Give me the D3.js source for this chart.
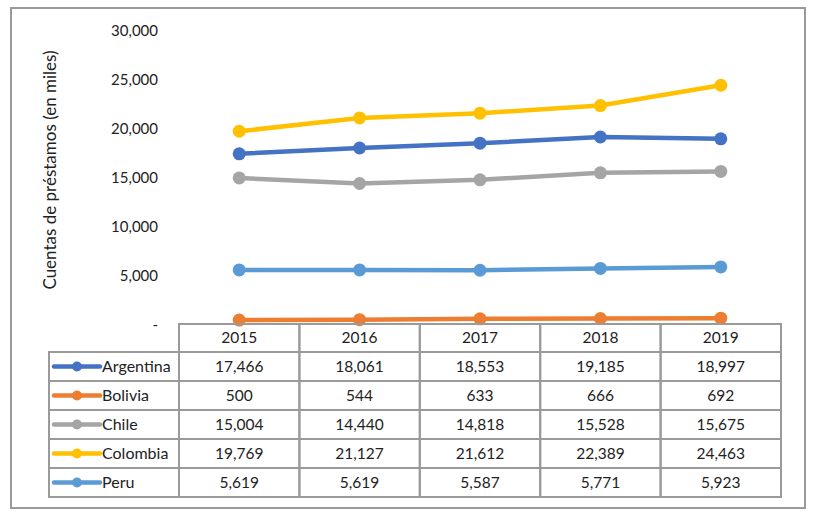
<!DOCTYPE html>
<html lang="es">
<head>
<meta charset="utf-8">
<title>Cuentas de préstamos</title>
<script src="https://cdn.jsdelivr.net/npm/d3@7"></script>
<style>
  body { margin: 0; background: #fff; }
  text { font-family: Lato, "Open Sans", sans-serif; fill: #222; }
  .tick text { font-size: 15px; }
  .tbl text { font-size: 15.5px; }
  .tbl text.leg { font-size: 16px; }
</style>
</head>
<body>
<script>
var years = ["2015", "2016", "2017", "2018", "2019"];
var countries = ["Argentina", "Bolivia", "Chile", "Colombia", "Peru"];
var argentina = [17466, 18061, 18553, 19185, 18997];
var bolivia = [500, 544, 633, 666, 692];
var chile = [15004, 14440, 14818, 15528, 15675];
var colombia = [19769, 21127, 21612, 22389, 24463];
var peru = [5619, 5619, 5587, 5771, 5923];
var yTicks = [0, 5000, 10000, 15000, 20000, 25000, 30000];
var colors = ["#4472C4", "#ED7D31", "#A5A5A5", "#FFC000", "#5B9BD5"];
var series = [argentina, bolivia, chile, colombia, peru];

var w = 814, h = 517;
var svg = d3.select("body").append("svg").attr("width", w).attr("height", h);

// outer frame
svg.append("rect").attr("x", 11).attr("y", 8).attr("width", 794).attr("height", 500)
   .attr("fill", "none").attr("stroke", "#9a9a9a").attr("stroke-width", 2);

var tableLeft = 179, tableRight = 781, tableTop = 324;
var xScale = d3.scaleBand().domain(years).range([tableLeft, tableRight]);
var yScale = d3.scaleLinear().domain([0, 30000]).range([325, 31]);

// y axis
var fmt = d3.format(",");
var yAxis = d3.axisLeft(yScale).tickValues(yTicks)
  .tickFormat(function(d) { return d === 0 ? "-" : fmt(d); })
  .tickSize(0).tickPadding(0);
var yg = svg.append("g").attr("transform", "translate(158,0)").call(yAxis);
yg.select(".domain").remove();
yg.selectAll("text").attr("fill", "#222").style("font-family", "Lato, sans-serif");

svg.append("text")
   .attr("transform", "translate(56,170) rotate(-90)")
   .attr("text-anchor", "middle").attr("font-size", 17)
   .text("Cuentas de préstamos (en miles)");

// lines
var line = d3.line()
  .x(function(d, i) { return xScale(years[i]) + xScale.bandwidth() / 2; })
  .y(function(d) { return yScale(d); });

series.forEach(function(s, k) {
  var g = svg.append("g");
  g.append("path").datum(s).attr("d", line)
   .attr("fill", "none").attr("stroke", colors[k]).attr("stroke-width", 4.5)
   .attr("stroke-linejoin", "round");
  g.selectAll("circle").data(s).enter().append("circle")
   .attr("cx", function(d, i) { return xScale(years[i]) + xScale.bandwidth() / 2; })
   .attr("cy", function(d) { return yScale(d); })
   .attr("r", 6.5).attr("fill", colors[k]);
});

// data table
var rowH = 29, headH = 28, legLeft = 49;
var rowY = d3.scaleBand().domain(countries)
  .range([tableTop + headH, tableTop + headH + rowH * countries.length]);
var tbl = svg.append("g").attr("class", "tbl");
var grid = "#9a9a9a";

// header
years.forEach(function(y) {
  tbl.append("rect").attr("x", xScale(y)).attr("y", tableTop)
     .attr("width", xScale.bandwidth()).attr("height", headH)
     .attr("fill", "none").attr("stroke", grid).attr("stroke-width", 2);
  tbl.append("text").attr("x", xScale(y) + xScale.bandwidth() / 2)
     .attr("y", tableTop + headH / 2 + 5).attr("text-anchor", "middle").text(y);
});

countries.forEach(function(c, k) {
  var y0 = rowY(c);
  tbl.append("rect").attr("x", legLeft).attr("y", y0)
     .attr("width", tableLeft - legLeft).attr("height", rowY.bandwidth())
     .attr("fill", "none").attr("stroke", grid).attr("stroke-width", 2);
  tbl.append("line").attr("x1", 54).attr("x2", 100)
     .attr("y1", y0 + rowY.bandwidth() / 2).attr("y2", y0 + rowY.bandwidth() / 2)
     .attr("stroke", colors[k]).attr("stroke-width", 4.5).attr("stroke-linecap", "round");
  tbl.append("circle").attr("cx", 77).attr("cy", y0 + rowY.bandwidth() / 2)
     .attr("r", 5).attr("fill", colors[k]);
  tbl.append("text").attr("class", "leg").attr("x", 102)
     .attr("y", y0 + rowY.bandwidth() / 2 + 5.5).text(c);
  years.forEach(function(yr, i) {
    tbl.append("rect").attr("x", xScale(yr)).attr("y", y0)
       .attr("width", xScale.bandwidth()).attr("height", rowY.bandwidth())
       .attr("fill", "none").attr("stroke", grid).attr("stroke-width", 2);
    tbl.append("text").attr("x", xScale(yr) + xScale.bandwidth() / 2)
       .attr("y", y0 + rowY.bandwidth() / 2 + 5.5).attr("text-anchor", "middle")
       .text(fmt(series[k][i]));
  });
});
</script>
</body>
</html>
